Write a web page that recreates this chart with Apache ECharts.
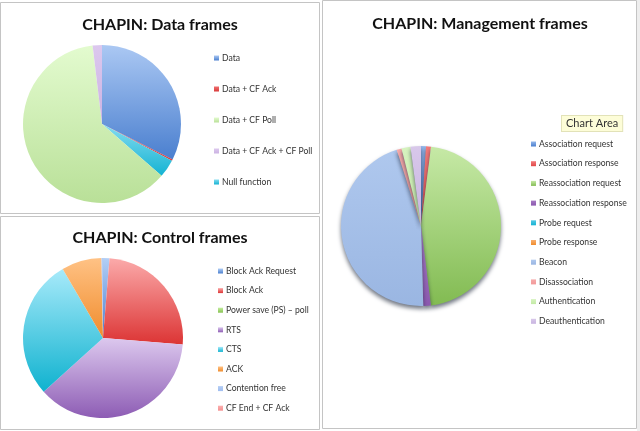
<html>
<head>
<meta charset="utf-8">
<script src="https://cdn.jsdelivr.net/npm/echarts@6/dist/echarts.min.js"></script>
<style>
html, body { margin: 0; padding: 0; background: #fff; }
#main { width: 640px; height: 431px; }
</style>
</head>
<body>
<div id="main"></div>
<script>

// Data frames
var dataCats = ['Data', 'Data + CF Ack', 'Data + CF Poll', 'Data + CF Ack + CF Poll', 'Null function'];
var dataVals = [32.4, 0.3, 61.7, 1.9, 3.7];
// order the slices appear in going clockwise from 12 o'clock
var dataOrder = [0, 1, 4, 2, 3];

// Control frames
var ctrlCats = ['Block Ack Request', 'Block Ack', 'Power save (PS) – poll', 'RTS', 'CTS', 'ACK', 'Contention free', 'CF End + CF Ack'];
var ctrlVals = [1.3, 25.0, 0, 37.0, 28.3, 8.1, 0.3, 0];

// Management frames
var mgmtCats = ['Association request', 'Association response', 'Reassociation request', 'Reassociation response',
    'Probe request', 'Probe response', 'Beacon', 'Disassociation', 'Authentication', 'Deauthentication'];
var mgmtVals = [1.0, 1.0, 46.0, 1.5, 0, 0, 45.5, 1.0, 1.8, 2.1];

function grad(top, bottom) {
    return new echarts.graphic.LinearGradient(0, 0, 0, 1, [
        {offset: 0, color: top},
        {offset: 1, color: bottom}
    ]);
}

var dataColors = [
    grad('#abc8f3', '#4a7fcf'),
    grad('#f07070', '#d83a3a'),
    grad('#e3fbcf', '#b9e098'),
    grad('#dcc8ee', '#cbb2e2'),
    grad('#86dcf0', '#14b3d3')
];
var ctrlColors = [
    grad('#b3cff6', '#4a7fcf'),
    grad('#fbaaaa', '#dc3434'),
    grad('#c4eea0', '#86c150'),
    grad('#dcc8ee', '#8d5cb4'),
    grad('#a8eafa', '#0fb2cf'),
    grad('#ffc285', '#f08c2c'),
    grad('#b3cdf4', '#a0bdf0'),
    grad('#fbb0b0', '#f49090')
];
var mgmtColors = [
    grad('#93b6ea', '#4a7fcf'),
    grad('#f27a7a', '#e04848'),
    grad('#c6e9a6', '#82bb52'),
    grad('#a679c4', '#8b58ae'),
    grad('#55c8e4', '#14b3d3'),
    grad('#f8b070', '#f08c2c'),
    grad('#afc8ee', '#9ab6e2'),
    grad('#f6aaaa', '#f29a9a'),
    grad('#d6f3bf', '#c4eaa6'),
    grad('#d8c8ea', '#c8b4e0')
];

function slices(cats, vals, colors, order) {
    var idx = order || cats.map(function (c, i) { return i; });
    return idx.map(function (i) {
        return {name: cats[i], value: vals[i], itemStyle: {color: colors[i]}};
    });
}

var chart = echarts.init(document.getElementById('main'), null, {renderer: 'canvas'});

var titleStyle = {
    fontFamily: 'Lato',
    fontWeight: 'bold',
    fontSize: 16,
    color: '#111'
};
var legendText = {
    fontFamily: 'Lato',
    fontSize: 8.6,
    color: '#333',
    lineHeight: 12,
    padding: [0, 0, 0, -2]
};

var pieBase = {
    type: 'pie',
    label: {show: false},
    labelLine: {show: false},
    emphasis: {disabled: true},
    startAngle: 90,
    clockwise: true
};

chart.setOption({
    animation: false,
    backgroundColor: '#ffffff',
    title: [
        {text: 'CHAPIN: Data frames', left: 155, top: 12, textAlign: 'center', textStyle: titleStyle},
        {text: 'CHAPIN: Control frames', left: 155, top: 225, textAlign: 'center', textStyle: titleStyle},
        {text: 'CHAPIN: Management frames', left: 475, top: 11, textAlign: 'center', textStyle: titleStyle}
    ],
    legend: [
        {
            data: dataCats, orient: 'vertical', left: 209, top: 47,
            itemWidth: 5, itemHeight: 5, itemGap: 19, icon: 'rect',
            textStyle: legendText, selectedMode: false
        },
        {
            data: ctrlCats, orient: 'vertical', left: 213, top: 260,
            itemWidth: 5, itemHeight: 5, itemGap: 7.6, icon: 'rect',
            textStyle: legendText, selectedMode: false
        },
        {
            data: mgmtCats, orient: 'vertical', left: 526, top: 133,
            itemWidth: 5, itemHeight: 5, itemGap: 7.7, icon: 'rect',
            textStyle: legendText, selectedMode: false
        }
    ],
    graphic: [
        {type: 'rect', shape: {x: 0.5, y: 2.5, width: 319, height: 211}, style: {fill: 'none', stroke: '#c4c4c4', lineWidth: 1}, z: -1},
        {type: 'rect', shape: {x: 0.5, y: 216.5, width: 319, height: 213}, style: {fill: 'none', stroke: '#c4c4c4', lineWidth: 1}, z: -1},
        {type: 'rect', shape: {x: 322.5, y: 0.5, width: 314, height: 428}, style: {fill: 'none', stroke: '#c4c4c4', lineWidth: 1}, z: -1},
        {type: 'rect', shape: {x: 637, y: 0, width: 3, height: 431}, style: {fill: '#eeeeee'}, z: -1},
        {
            type: 'text', left: 561, top: 115, z: 10,
            style: {
                text: 'Chart Area', fontFamily: 'Lato', fontSize: 11, fill: '#333',
                backgroundColor: '#fdfdd8', borderColor: '#e2e2b8', borderWidth: 1,
                padding: [2, 4, 2, 4]
            }
        }
    ],
    series: [
        Object.assign({}, pieBase, {
            name: 'Data frames',
            center: [102, 124],
            radius: 79,
            data: slices(dataCats, dataVals, dataColors, dataOrder)
        }),
        Object.assign({}, pieBase, {
            name: 'Control frames',
            center: [103, 338],
            radius: 80,
            data: slices(ctrlCats, ctrlVals, ctrlColors)
        }),
        Object.assign({}, pieBase, {
            name: 'Management frames',
            center: [421, 226],
            radius: 80,
            itemStyle: {
                shadowColor: 'rgba(20,30,50,0.6)',
                shadowBlur: 4,
                shadowOffsetY: 3
            },
            data: slices(mgmtCats, mgmtVals, mgmtColors)
        })
    ]
});

</script>
</body>
</html>
